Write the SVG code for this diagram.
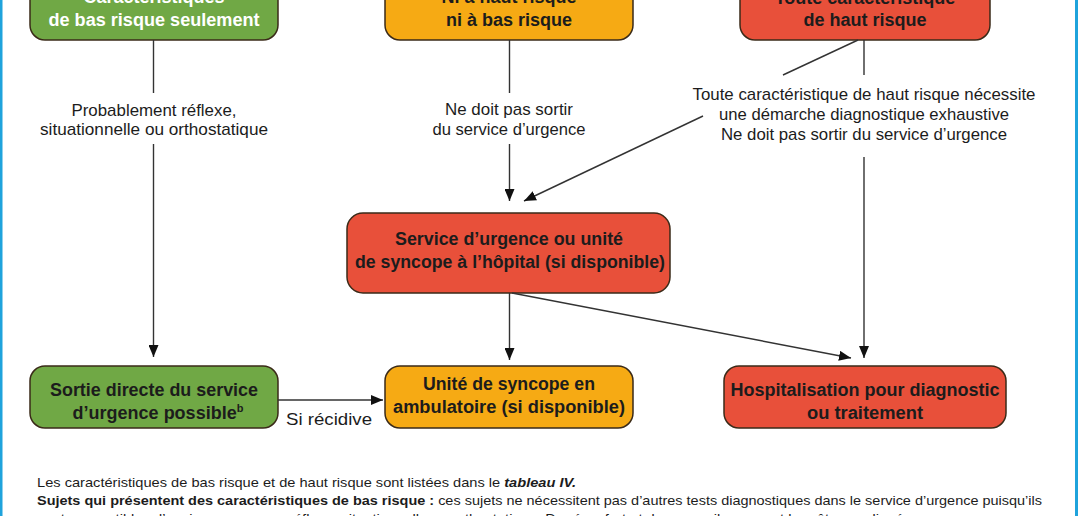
<svg xmlns="http://www.w3.org/2000/svg" width="1078" height="516" viewBox="0 0 1078 516">
<defs>
<marker id="arr" viewBox="0 0 12 10" refX="12" refY="5" markerWidth="12" markerHeight="10" markerUnits="userSpaceOnUse" orient="auto">
<path d="M0,0 L12,5 L0,10 Z" fill="#111"/>
</marker>
</defs>
<style>
.box{stroke:#3a2a18;stroke-width:1.5}
.g{fill:#70a845}
.o{fill:#f6aa14}
.r{fill:#e8503a}
.bt{font-family:"Liberation Sans",Arial,sans-serif;font-weight:bold;font-size:18px;text-anchor:middle;fill:#1c1c1c}
.wt{fill:#ffffff}
.lb{font-family:"Liberation Sans",Arial,sans-serif;font-size:17px;text-anchor:middle;fill:#1c1c1c}
.ft{font-family:"Liberation Sans",Arial,sans-serif;font-size:13.5px;fill:#1c1c1c}
.c{stroke:#333;stroke-width:1.4;fill:none}
.ca{stroke:#333;stroke-width:1.4;fill:none;marker-end:url(#arr)}
</style>
<rect x="0" y="0" width="1078" height="516" fill="#ffffff"/>
<rect x="0" y="0" width="2.5" height="516" fill="#1fa3dc"/>
<rect x="1075" y="0" width="3" height="516" fill="#1fa3dc"/>

<g id="n_low">
<rect class="box g" x="30" y="-40" width="248" height="80" rx="15"/>
<text class="bt wt" x="154" y="3">Caractéristiques</text>
<text class="bt wt" x="154" y="26" textLength="211" lengthAdjust="spacingAndGlyphs">de bas risque seulement</text>
</g>
<g id="n_mid">
<rect class="box o" x="385" y="-40" width="248" height="80" rx="15"/>
<text class="bt" x="509" y="3">Ni à haut risque</text>
<text class="bt" x="509" y="26" textLength="126" lengthAdjust="spacingAndGlyphs">ni à bas risque</text>
</g>
<g id="n_high">
<rect class="box r" x="740" y="-40" width="250" height="80" rx="15"/>
<text class="bt" x="865" y="4">Toute caractéristique</text>
<text class="bt" x="865" y="26" textLength="123" lengthAdjust="spacingAndGlyphs">de haut risque</text>
</g>
<g id="n_ed">
<rect class="box r" x="347" y="213" width="323" height="80" rx="16"/>
<text class="bt" x="509" y="245" textLength="228" lengthAdjust="spacingAndGlyphs">Service d’urgence ou unité</text>
<text class="bt" x="510" y="268" textLength="310" lengthAdjust="spacingAndGlyphs">de syncope à l’hôpital (si disponible)</text>
</g>
<g id="n_disch">
<rect class="box g" x="30" y="366" width="248" height="62" rx="15"/>
<text class="bt" x="154" y="396" textLength="208" lengthAdjust="spacingAndGlyphs">Sortie directe du service</text>
<text class="bt" x="158" y="419">d’urgence possible<tspan font-size="11" dy="-7">b</tspan></text>
</g>
<g id="n_unit">
<rect class="box o" x="385" y="366" width="248" height="62" rx="15"/>
<text class="bt" x="509" y="390" textLength="172" lengthAdjust="spacingAndGlyphs">Unité de syncope en</text>
<text class="bt" x="509" y="413" textLength="232" lengthAdjust="spacingAndGlyphs">ambulatoire (si disponible)</text>
</g>
<g id="n_hosp">
<rect class="box r" x="724" y="366" width="282" height="62" rx="15"/>
<text class="bt" x="865" y="396" textLength="269" lengthAdjust="spacingAndGlyphs">Hospitalisation pour diagnostic</text>
<text class="bt" x="865" y="419" textLength="116" lengthAdjust="spacingAndGlyphs">ou traitement</text>
</g>

<g id="connectors">
<line class="c" x1="153.5" y1="40" x2="153.5" y2="93"/>
<line class="ca" x1="153.5" y1="144" x2="153.5" y2="357"/>
<line class="c" x1="509.5" y1="40" x2="509.5" y2="93"/>
<line class="ca" x1="509.5" y1="144" x2="509.5" y2="201"/>
<line class="c" x1="858" y1="40" x2="783" y2="75"/>
<line class="c" x1="864" y1="40" x2="864" y2="75"/>
<line class="ca" x1="703" y1="116" x2="524" y2="201"/>
<line class="ca" x1="864" y1="157" x2="864" y2="358"/>
<line class="ca" x1="509.5" y1="293" x2="509.5" y2="360"/>
<line class="ca" x1="512" y1="293" x2="851" y2="358"/>
<line class="ca" x1="278" y1="400" x2="383" y2="400"/>
<text class="lb" x="154" y="116" textLength="165" lengthAdjust="spacingAndGlyphs">Probablement réflexe,</text>
<text class="lb" x="154" y="135" textLength="228" lengthAdjust="spacingAndGlyphs">situationnelle ou orthostatique</text>
<text class="lb" x="509" y="115" textLength="128" lengthAdjust="spacingAndGlyphs">Ne doit pas sortir</text>
<text class="lb" x="509" y="135" textLength="153" lengthAdjust="spacingAndGlyphs">du service d’urgence</text>
<text class="lb" x="864" y="100" textLength="343" lengthAdjust="spacingAndGlyphs">Toute caractéristique de haut risque nécessite</text>
<text class="lb" x="864" y="120" textLength="290" lengthAdjust="spacingAndGlyphs">une démarche diagnostique exhaustive</text>
<text class="lb" x="864" y="140" textLength="286" lengthAdjust="spacingAndGlyphs">Ne doit pas sortir du service d’urgence</text>
<text class="lb" x="286" y="425" text-anchor="start" style="text-anchor:start" textLength="86" lengthAdjust="spacingAndGlyphs">Si récidive</text>
</g>

<g id="notes">
<text class="ft" x="37" y="487" textLength="539" lengthAdjust="spacingAndGlyphs">Les caractéristiques de bas risque et de haut risque sont listées dans le <tspan font-weight="bold" font-style="italic">tableau IV.</tspan></text>
<text class="ft" x="37" y="505" textLength="1005" lengthAdjust="spacingAndGlyphs"><tspan font-weight="bold">Sujets qui présentent des caractéristiques de bas risque :</tspan> ces sujets ne nécessitent pas d’autres tests diagnostiques dans le service d’urgence puisqu’ils</text>
<text class="ft" x="37" y="523" textLength="878" lengthAdjust="spacingAndGlyphs">sont susceptibles d’avoir une syncope réflexe, situationnelle ou orthostatique. Du réconfort et des conseils peuvent leur être prodigués.</text>
</g>
</svg>
